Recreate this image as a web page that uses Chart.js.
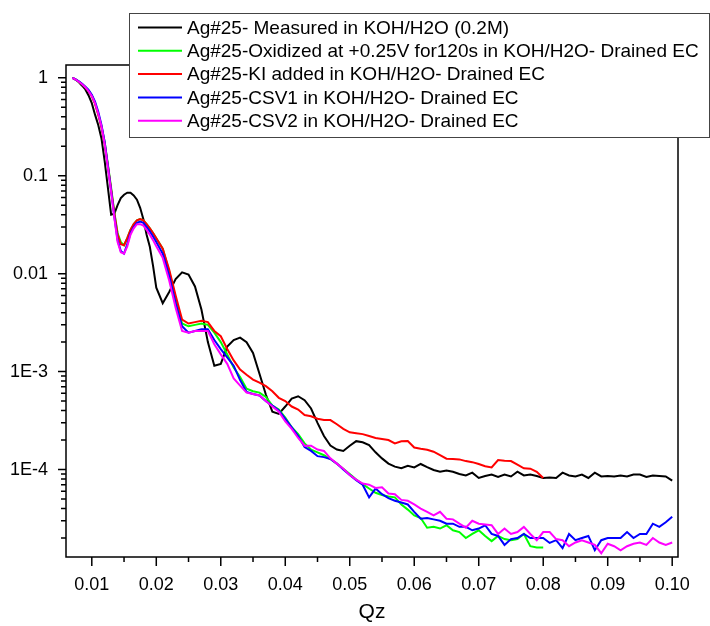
<!DOCTYPE html>
<html>
<head>
<meta charset="utf-8">
<script src="https://cdn.jsdelivr.net/npm/chart.js@4.4.0/dist/chart.umd.min.js"></script>
<style>
  html, body { margin: 0; padding: 0; background: #fff; }
  canvas { display: block; }
</style>
</head>
<body>
<canvas id="reflChart" width="710" height="626"></canvas>
<script>
  // Qz values (finer step through the first fringes)
  const qz = [
    0.007, 0.0075, 0.008, 0.0085, 0.009, 0.0095, 0.010, 0.0105, 0.011, 0.0115,
    0.012, 0.0125, 0.013, 0.0135, 0.014, 0.0145, 0.015, 0.0155, 0.016, 0.0165,
    0.017, 0.0175, 0.018, 0.0185, 0.019, 0.0195, 0.020,
    0.021, 0.022, 0.023, 0.024, 0.025, 0.026, 0.027, 0.028, 0.029, 0.030,
    0.031, 0.032, 0.033, 0.034, 0.035, 0.036, 0.037, 0.038, 0.039, 0.040,
    0.041, 0.042, 0.043, 0.044, 0.045, 0.046, 0.047, 0.048, 0.049, 0.050,
    0.051, 0.052, 0.053, 0.054, 0.055, 0.056, 0.057, 0.058, 0.059, 0.060,
    0.061, 0.062, 0.063, 0.064, 0.065, 0.066, 0.067, 0.068, 0.069, 0.070,
    0.071, 0.072, 0.073, 0.074, 0.075, 0.076, 0.077, 0.078, 0.079, 0.080,
    0.081, 0.082, 0.083, 0.084, 0.085, 0.086, 0.087, 0.088, 0.089, 0.090,
    0.091, 0.092, 0.093, 0.094, 0.095, 0.096, 0.097, 0.098, 0.099, 0.100
  ];

  const seriesLabels = [
    'Ag#25- Measured in KOH/H2O (0.2M)',
    'Ag#25-Oxidized at +0.25V for120s in KOH/H2O- Drained EC',
    'Ag#25-KI added in KOH/H2O- Drained EC',
    'Ag#25-CSV1 in KOH/H2O- Drained EC',
    'Ag#25-CSV2 in KOH/H2O- Drained EC'
  ];
  const seriesColors = ['#000000', '#00ff00', '#ff0000', '#0000ff', '#ff00ff'];

  const measured = [
    1.0, 0.96, 0.90, 0.83, 0.76, 0.66, 0.55, 0.42, 0.33, 0.24,
    0.14, 0.075, 0.040, 0.041, 0.050, 0.059, 0.064, 0.067, 0.067, 0.063,
    0.057, 0.047, 0.036, 0.025, 0.0188, 0.012, 0.0072,
    0.005, 0.0065, 0.0088, 0.0103, 0.0098, 0.0074, 0.0043, 0.002, 0.00115, 0.0012,
    0.0018, 0.0021, 0.00222, 0.002, 0.00155, 0.00095, 0.00058, 0.00039, 0.00037, 0.00044,
    0.00053, 0.00056, 0.00051, 0.00042, 0.0003, 0.00022, 0.000176, 0.00016, 0.000155, 0.000175,
    0.000195, 0.00019, 0.000178, 0.00015, 0.00013, 0.000115, 0.000107, 0.000103, 0.000109, 0.000105,
    0.000114, 0.000106, 0.000099, 9.5e-5, 9.8e-5, 9.5e-5, 9.0e-5, 8.7e-5, 9.3e-5, 8.2e-5,
    8.6e-5, 8.9e-5, 8.4e-5, 8.9e-5, 8.5e-5, 9.5e-5, 8.7e-5, 8.9e-5, 8.6e-5, 8.2e-5,
    8.3e-5, 8.2e-5, 9.3e-5, 8.7e-5, 8.5e-5, 8.9e-5, 8.2e-5, 9.3e-5, 8.5e-5, 8.6e-5,
    8.5e-5, 8.7e-5, 8.5e-5, 8.9e-5, 8.9e-5, 8.4e-5, 8.7e-5, 8.6e-5, 8.5e-5, 7.7e-5
  ];

  const oxidized = [
    1.0, 0.96, 0.91, 0.86, 0.80, 0.74, 0.66, 0.55, 0.43, 0.32,
    0.22, 0.13, 0.075, 0.042, 0.026, 0.021, 0.0195, 0.023, 0.028, 0.032,
    0.035, 0.036, 0.035, 0.032, 0.029, 0.026, 0.023,
    0.018, 0.0105, 0.0056, 0.0031, 0.0029, 0.0030, 0.0031, 0.0030, 0.0025, 0.0020,
    0.0015, 0.0011, 0.00088, 0.00067, 0.00063, 0.00061, 0.00055, 0.00045, 0.00041, 0.00034,
    0.00027, 0.00023, 0.000185, 0.00016, 0.00015, 0.00014, 0.000128, 0.000115, 0.000102, 9.0e-5,
    7.9e-5, 7.1e-5, 6.4e-5, 5.8e-5, 5.5e-5, 5.3e-5, 5.2e-5, 4.4e-5, 3.9e-5, 3.4e-5,
    3.2e-5, 2.55e-5, 2.6e-5, 2.5e-5, 2.7e-5, 2.4e-5, 2.3e-5, 2.0e-5, 2.2e-5, 2.4e-5,
    2.1e-5, 1.86e-5, 2.1e-5, 1.95e-5, 1.9e-5, 1.95e-5, 2.2e-5, 1.65e-5, 1.6e-5, 1.6e-5
  ];

  const kiAdded = [
    1.0, 0.96, 0.91, 0.86, 0.80, 0.73, 0.65, 0.54, 0.42, 0.31,
    0.21, 0.125, 0.072, 0.041, 0.025, 0.020, 0.0195, 0.023, 0.028, 0.032,
    0.035, 0.036, 0.035, 0.032, 0.029, 0.026, 0.023,
    0.018, 0.011, 0.006, 0.0034, 0.0031, 0.0032, 0.0033, 0.0032, 0.0026, 0.0023,
    0.0017, 0.0013, 0.00105, 0.00093, 0.00083, 0.00077, 0.00071, 0.00063, 0.00054, 0.0005,
    0.00044, 0.00041, 0.00036, 0.00035, 0.00033, 0.00032, 0.00032, 0.00029, 0.00026, 0.00024,
    0.000235, 0.00023, 0.00022, 0.00021, 0.000205, 0.0002, 0.000185, 0.000194, 0.000196, 0.000168,
    0.000163, 0.000159, 0.000152, 0.00014, 0.000129, 0.000128, 0.000127, 0.000122, 0.000119, 0.000114,
    0.000108, 0.000105, 0.000125, 0.000123, 0.000122, 0.000112, 0.000103, 0.000102, 9.5e-5, 8.2e-5
  ];

  const csv1 = [
    1.0, 0.96, 0.92, 0.87, 0.81, 0.75, 0.67, 0.57, 0.45, 0.33,
    0.22, 0.125, 0.07, 0.038, 0.022, 0.017, 0.016, 0.02, 0.026, 0.030,
    0.033, 0.034, 0.033, 0.030, 0.027, 0.024, 0.021,
    0.016, 0.0095, 0.005, 0.0029, 0.0025, 0.0026, 0.0027, 0.0027, 0.0021, 0.0017,
    0.0014, 0.00115, 0.00082, 0.00062, 0.00059, 0.00057, 0.0005, 0.00045, 0.0004, 0.00033,
    0.00027, 0.00022, 0.00017, 0.000155, 0.000137, 0.000134, 0.000128, 0.000115, 0.0001, 8.8e-5,
    7.8e-5, 7.0e-5, 5.2e-5, 6.4e-5, 5.6e-5, 5.1e-5, 4.8e-5, 4.6e-5, 4.4e-5, 3.7e-5,
    3.15e-5, 3.2e-5, 3.1e-5, 3.0e-5, 2.8e-5, 2.8e-5, 2.6e-5, 2.6e-5, 2.4e-5, 2.5e-5,
    2.7e-5, 2.2e-5, 2.1e-5, 1.7e-5, 1.95e-5, 2.0e-5, 2.2e-5, 2.0e-5, 2.0e-5, 2.0e-5,
    1.78e-5, 1.9e-5, 1.58e-5, 2.2e-5, 1.9e-5, 2.0e-5, 2.1e-5, 1.5e-5, 1.9e-5, 2.0e-5,
    2.0e-5, 2.0e-5, 2.3e-5, 2.0e-5, 2.2e-5, 2.2e-5, 2.8e-5, 2.6e-5, 2.9e-5, 3.3e-5
  ];

  const csv2 = [
    1.0, 0.96, 0.91, 0.86, 0.80, 0.73, 0.65, 0.55, 0.43, 0.32,
    0.21, 0.12, 0.068, 0.037, 0.021, 0.0165, 0.016, 0.019, 0.025, 0.029,
    0.032, 0.032, 0.031, 0.028, 0.025, 0.022, 0.019,
    0.0145, 0.0085, 0.0045, 0.0026, 0.0025, 0.0026, 0.0026, 0.0026, 0.0019, 0.0015,
    0.0012, 0.00085, 0.00072, 0.00061, 0.00059, 0.00057, 0.0005, 0.00044, 0.00039, 0.00031,
    0.00026, 0.00021, 0.000175, 0.000175, 0.00016, 0.000155, 0.00013, 0.000115, 0.000102, 8.8e-5,
    7.9e-5, 7.2e-5, 7.0e-5, 6.5e-5, 6.6e-5, 5.7e-5, 5.6e-5, 4.9e-5, 4.8e-5, 4.4e-5,
    4.0e-5, 3.7e-5, 3.4e-5, 3.7e-5, 3.15e-5, 3.1e-5, 2.8e-5, 2.55e-5, 3.0e-5, 2.8e-5,
    2.75e-5, 2.7e-5, 2.2e-5, 2.5e-5, 2.2e-5, 2.3e-5, 2.6e-5, 2.2e-5, 1.9e-5, 2.3e-5,
    2.3e-5, 1.95e-5, 1.9e-5, 1.65e-5, 1.8e-5, 1.9e-5, 1.8e-5, 1.7e-5, 1.4e-5, 1.75e-5,
    1.65e-5, 1.5e-5, 1.65e-5, 1.75e-5, 1.8e-5, 1.7e-5, 2.0e-5, 1.8e-5, 1.7e-5, 1.8e-5
  ];

  const seriesValues = [measured, oxidized, kiAdded, csv1, csv2];

  const xTickValues = [0.01, 0.02, 0.03, 0.04, 0.05, 0.06, 0.07, 0.08, 0.09, 0.10];
  const xTickLabels = ['0.01', '0.02', '0.03', '0.04', '0.05', '0.06', '0.07', '0.08', '0.09', '0.10'];
  const yTickValues = [1, 0.1, 0.01, 1e-3, 1e-4];
  const yTickLabels = ['1', '0.1', '0.01', '1E-3', '1E-4'];

  const FONT = "'Liberation Sans', Arial, sans-serif";

  // frame, outward ticks and the boxed legend
  const framePlugin = {
    id: 'framePlugin',
    afterDraw(chart) {
      const { ctx, chartArea: a, scales: { x, y } } = chart;
      ctx.save();
      ctx.strokeStyle = '#000';
      ctx.lineWidth = 1.5;
      ctx.strokeRect(a.left, a.top, a.right - a.left, a.bottom - a.top);

      ctx.beginPath();
      xTickValues.forEach((v, i) => {
        const px = x.getPixelForValue(v);
        ctx.moveTo(px, a.bottom); ctx.lineTo(px, a.bottom + 9);
        if (i > 0) {
          const pm = x.getPixelForValue((v + xTickValues[i - 1]) / 2);
          ctx.moveTo(pm, a.bottom); ctx.lineTo(pm, a.bottom + 5);
        }
      });
      for (let d = 1e-5; d <= 1.01; d *= 10) {
        for (let m = 1; m <= 9; m++) {
          const v = m * d;
          if (v < y.min || v > y.max) continue;
          const py = y.getPixelForValue(v);
          ctx.moveTo(a.left, py); ctx.lineTo(a.left - (m === 1 ? 8 : 5), py);
        }
      }
      ctx.stroke();

      // legend
      const lx = 129, ly = 13, lw = 580, lh = 124, row = 23.3;
      ctx.fillStyle = '#fff';
      ctx.fillRect(lx, ly, lw, lh);
      ctx.strokeStyle = '#444';
      ctx.lineWidth = 1;
      ctx.strokeRect(lx + 0.5, ly + 0.5, lw, lh);
      ctx.font = '19px ' + FONT;
      ctx.textBaseline = 'middle';
      chart.data.datasets.forEach((ds, i) => {
        const cy = ly + 14.5 + i * row;
        ctx.strokeStyle = ds.borderColor;
        ctx.lineWidth = 2;
        ctx.beginPath();
        ctx.moveTo(lx + 9, cy); ctx.lineTo(lx + 53, cy);
        ctx.stroke();
        ctx.fillStyle = '#000';
        ctx.fillText(ds.label, lx + 58, cy + 1);
      });
      ctx.restore();
    }
  };

  const datasets = seriesLabels.map((label, i) => ({
    label: label,
    data: seriesValues[i].map((v, j) => ({ x: qz[j], y: v })),
    borderColor: seriesColors[i],
    borderWidth: 2,
    pointRadius: 0,
    tension: 0,
    fill: false,
    order: seriesLabels.length - i
  }));

  const chart = new Chart(document.getElementById('reflChart').getContext('2d'), {
    type: 'line',
    data: { datasets: datasets },
    options: {
      responsive: false,
      animation: false,
      layout: { padding: { left: 0, right: 32, top: 65, bottom: 0 } },
      plugins: { legend: { display: false }, tooltip: { enabled: false } },
      scales: {
        x: {
          type: 'linear',
          min: 0.0060,
          max: 0.1009,
          grid: { display: false, drawTicks: false },
          border: { display: false },
          afterBuildTicks: (s) => { s.ticks = xTickValues.map(v => ({ value: v })); },
          afterFit: (s) => { s.height = 69; },
          ticks: {
            padding: 17,
            color: '#000',
            font: { family: FONT, size: 18 },
            maxRotation: 0,
            autoSkip: false,
            callback: (v, i) => xTickLabels[i]
          },
          title: {
            display: true,
            text: 'Qz',
            color: '#000',
            font: { family: FONT, size: 21 },
            padding: { top: 0, bottom: 1 }
          }
        },
        y: {
          type: 'logarithmic',
          min: 1.28e-5,
          max: 1.35,
          grid: { display: false, drawTicks: false },
          border: { display: false },
          afterBuildTicks: (s) => { s.ticks = yTickValues.map(v => ({ value: v, major: true })); },
          afterFit: (s) => { s.width = 66; },
          ticks: {
            padding: 18,
            color: '#000',
            font: { family: FONT, size: 18 },
            autoSkip: false,
            callback: (v, i) => yTickLabels[i]
          }
        }
      }
    },
    plugins: [framePlugin]
  });
</script>
</body>
</html>
